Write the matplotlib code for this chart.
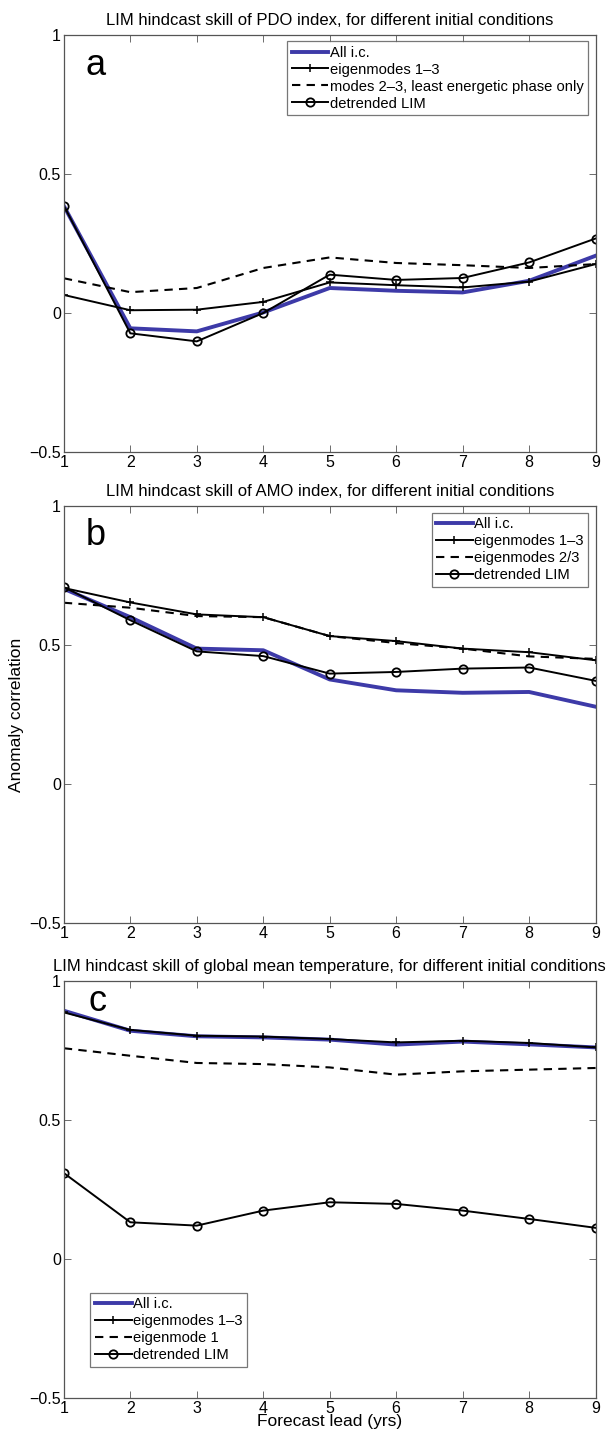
import matplotlib
matplotlib.use("Agg")
import matplotlib.pyplot as plt
import numpy as np

plt.rcParams['font.family'] = ['Liberation Sans', 'DejaVu Sans']

lead = [1, 2, 3, 4, 5, 6, 7, 8, 9]

# panel a: PDO index
pdo_all = [0.385, -0.055, -0.066, 0.002, 0.09, 0.08, 0.074, 0.116, 0.206]
pdo_eig = [0.065, 0.01, 0.012, 0.04, 0.11, 0.10, 0.092, 0.113, 0.176]
pdo_modes = [0.125, 0.075, 0.09, 0.162, 0.20, 0.18, 0.172, 0.162, 0.176]
pdo_detr = [0.386, -0.073, -0.102, 0.0, 0.138, 0.119, 0.126, 0.182, 0.268]

# panel b: AMO index
amo_all = [0.702, 0.60, 0.487, 0.481, 0.376, 0.337, 0.328, 0.331, 0.278]
amo_eig = [0.705, 0.653, 0.61, 0.60, 0.532, 0.514, 0.487, 0.474, 0.445]
amo_modes = [0.652, 0.634, 0.604, 0.60, 0.532, 0.507, 0.487, 0.459, 0.45]
amo_detr = [0.708, 0.589, 0.477, 0.46, 0.397, 0.403, 0.415, 0.419, 0.371]

# panel c: global mean temperature
gmt_all = [0.893, 0.821, 0.801, 0.797, 0.789, 0.771, 0.782, 0.772, 0.761]
gmt_eig = [0.887, 0.824, 0.803, 0.80, 0.791, 0.779, 0.785, 0.777, 0.761]
gmt_modes = [0.758, 0.731, 0.705, 0.701, 0.689, 0.663, 0.675, 0.681, 0.687]
gmt_detr = [0.309, 0.132, 0.12, 0.174, 0.204, 0.198, 0.174, 0.144, 0.112]

titles = ['LIM hindcast skill of PDO index, for different initial conditions',
          'LIM hindcast skill of AMO index, for different initial conditions',
          'LIM hindcast skill of global mean temperature, for different initial conditions']
dash_labels = ['modes 2\u20133, least energetic phase only', 'eigenmodes 2/3', 'eigenmode 1']
letters = ['a', 'b', 'c']
letter_pos = [(0.041, 0.904), (0.041, 0.907), (0.047, 0.928)]
legend_loc = ['upper right', 'upper right', 'lower left']
legend_anchor = [(1.0 - 0.014, 0.985), (1.0 - 0.014, 0.983), (0.05, 0.075)]

data = [(pdo_all, pdo_eig, pdo_modes, pdo_detr),
        (amo_all, amo_eig, amo_modes, amo_detr),
        (gmt_all, gmt_eig, gmt_modes, gmt_detr)]

fig = plt.figure(figsize=(6.14, 14.35), dpi=100)
bottoms = [0.685, 0.3568, 0.0258]
blue = '#3d3aa8'
grey = '#555555'

for i in range(3):
    ax = fig.add_axes([0.104, bottoms[i], 0.866, 0.2906])
    d_all, d_eig, d_modes, d_detr = data[i]
    ax.plot(lead, d_all, color=blue, lw=2.8, label='All i.c.')
    ax.plot(lead, d_eig, color='black', lw=1.4, marker='+', ms=6, mew=1.1,
            label='eigenmodes 1\u20133')
    ax.plot(lead, d_modes, color='black', lw=1.5, ls=(0, (4, 3)), label=dash_labels[i])
    ax.plot(lead, d_detr, color='black', lw=1.4, marker='o', ms=6, mfc='none',
            mew=1.3, label='detrended LIM')

    ax.set_xlim(1, 9)
    ax.set_ylim(-0.5, 1)
    ax.set_xticks(lead)
    ax.set_xticklabels([str(v) for v in lead])
    ax.set_yticks([-0.5, 0, 0.5, 1])
    ax.set_yticklabels(['\u22120.5', '0', '0.5', '1'])
    ax.tick_params(direction='in', top=True, right=True, length=5, width=0.6,
                   color=grey, labelsize=11.5, pad=2)
    for s in ax.spines.values():
        s.set_color(grey)
        s.set_linewidth(0.9)
    ax.set_title(titles[i], fontsize=12, pad=7)
    ax.text(letter_pos[i][0], letter_pos[i][1], letters[i], transform=ax.transAxes,
            fontsize=26, va='baseline', ha='left')
    leg = ax.legend(loc=legend_loc[i], bbox_to_anchor=legend_anchor[i], fontsize=10.6,
                    frameon=True, fancybox=False, handlelength=2.5, handletextpad=0.1,
                    borderpad=0.3, labelspacing=0.2, borderaxespad=0)
    leg.get_frame().set_edgecolor(grey)
    leg.get_frame().set_linewidth(0.9)

    if i == 1:
        ax.set_ylabel('Anomaly correlation', fontsize=12.5, labelpad=4)
    if i == 2:
        ax.set_xlabel('Forecast lead (yrs)', fontsize=12.5, labelpad=-1)

fig.savefig('out.png', dpi=100)
